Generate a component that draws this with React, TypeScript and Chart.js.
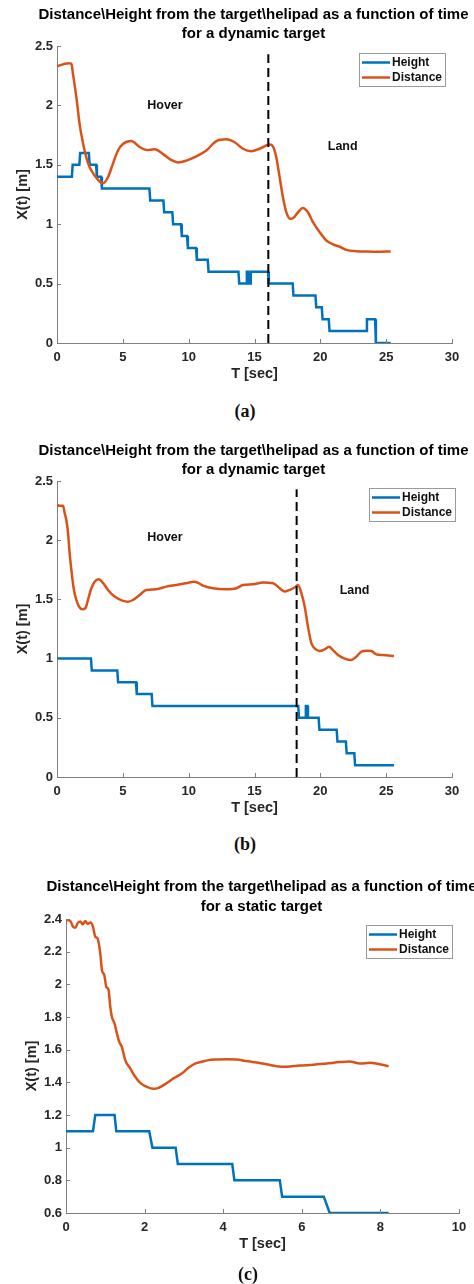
import React, { useEffect, useRef } from "react";
import { Chart, registerables } from "chart.js";
Chart.register(...registerables);

const FONT = '"Liberation Sans", Arial, Helvetica, sans-serif';
const SERIF = '"Liberation Serif", "DejaVu Serif", serif';
const BLUE = "#0072BD";
const ORANGE = "#D95319";
const AXIS = "#808080";
const TEXT = "#262626";

const SERIES_NAMES = ["Height", "Distance"];
const TITLE_DYNAMIC = ["Distance\\Height from the target\\helipad as a function of time", "for a dynamic target"];
const TITLE_STATIC = ["Distance\\Height from the target\\helipad as a function of time", "for a static target"];
const X_TITLE = "T [sec]";
const Y_TITLE = "X(t) [m]";

// ---------- Panel (a) ----------
const A_HEIGHT_T = [0, 1.13, 1.19, 1.7, 1.76, 2.42, 2.48, 2.97, 3.03, 3.35, 3.41, 7.02, 7.08, 8.08, 8.14, 8.76, 8.82, 9.42, 9.48, 9.88, 9.94, 10.56, 10.62, 11.45, 11.51, 13.78, 13.84, 14.36, 14.42, 14.52, 14.58, 14.66, 14.72, 16.03, 16.09, 17.9, 17.96, 19.63, 19.69, 20.11, 20.17, 20.64, 20.7, 23.48, 23.54, 24.16, 24.22, 25.34];
const A_HEIGHT_V = [1.4, 1.4, 1.5, 1.5, 1.6, 1.6, 1.5, 1.5, 1.4, 1.4, 1.3, 1.3, 1.2, 1.2, 1.1, 1.1, 1.0, 1.0, 0.9, 0.9, 0.8, 0.8, 0.7, 0.7, 0.6, 0.6, 0.5, 0.5, 0.6, 0.6, 0.5, 0.5, 0.6, 0.6, 0.5, 0.5, 0.4, 0.4, 0.3, 0.3, 0.2, 0.2, 0.1, 0.1, 0.2, 0.2, 0.0, 0.0];
const A_DIST_T = [0, 0.3, 0.6, 0.9, 1.09, 1.22, 1.47, 1.72, 1.98, 2.23, 2.48, 2.86, 3.24, 3.49, 3.87, 4.25, 4.63, 5.01, 5.65, 6.28, 6.79, 7.42, 8.05, 8.69, 9.19, 9.82, 10.58, 11.34, 12.1, 12.86, 13.49, 14.12, 14.76, 15.39, 16.15, 16.4, 16.66, 16.91, 17.16, 17.42, 17.72, 17.92, 18.3, 18.68, 19.06, 19.44, 19.95, 20.46, 20.96, 21.47, 21.97, 22.73, 23.49, 24.5, 25.34];
const A_DIST_V = [2.33, 2.34, 2.35, 2.355, 2.35, 2.26, 2.07, 1.84, 1.68, 1.56, 1.48, 1.41, 1.36, 1.345, 1.395, 1.51, 1.62, 1.675, 1.7, 1.65, 1.625, 1.63, 1.59, 1.54, 1.52, 1.535, 1.57, 1.62, 1.7, 1.715, 1.69, 1.635, 1.615, 1.635, 1.67, 1.655, 1.56, 1.395, 1.227, 1.1, 1.045, 1.05, 1.1, 1.137, 1.1, 1.017, 0.933, 0.863, 0.83, 0.81, 0.784, 0.773, 0.77, 0.768, 0.77];
const A_LAND_T = 16.05;

// ---------- Panel (b) ----------
const B_HEIGHT_T = [0, 2.58, 2.64, 4.58, 4.64, 6.0, 6.06, 7.19, 7.25, 18.32, 18.38, 18.86, 18.9, 19.02, 19.06, 19.87, 19.93, 21.24, 21.3, 21.94, 22.0, 22.58, 22.64, 25.59];
const B_HEIGHT_V = [1.0, 1.0, 0.9, 0.9, 0.8, 0.8, 0.7, 0.7, 0.6, 0.6, 0.5, 0.5, 0.6, 0.6, 0.5, 0.5, 0.4, 0.4, 0.3, 0.3, 0.2, 0.2, 0.1, 0.1];
const B_DIST_T = [0, 0.2, 0.46, 0.58, 0.71, 0.84, 0.96, 1.09, 1.27, 1.47, 1.67, 1.92, 2.18, 2.35, 2.61, 2.86, 3.16, 3.49, 3.87, 4.38, 5.01, 5.39, 5.77, 6.28, 6.78, 7.54, 8.3, 9.06, 9.82, 10.46, 11.09, 11.85, 12.86, 13.62, 14.13, 14.89, 15.65, 16.41, 16.91, 17.29, 17.67, 18.05, 18.3, 18.56, 18.81, 19.06, 19.32, 19.57, 19.95, 20.33, 20.66, 20.96, 21.34, 21.85, 22.35, 22.73, 23.11, 23.49, 23.87, 24.25, 24.76, 25.59];
const B_DIST_V = [2.3, 2.29, 2.29, 2.23, 2.17, 2.06, 1.89, 1.75, 1.59, 1.495, 1.44, 1.416, 1.43, 1.495, 1.594, 1.65, 1.67, 1.64, 1.58, 1.524, 1.487, 1.481, 1.495, 1.538, 1.58, 1.586, 1.608, 1.622, 1.637, 1.65, 1.617, 1.594, 1.586, 1.594, 1.622, 1.628, 1.642, 1.637, 1.594, 1.566, 1.58, 1.6, 1.622, 1.552, 1.44, 1.27, 1.13, 1.086, 1.064, 1.078, 1.1, 1.072, 1.03, 1.0, 0.988, 1.016, 1.058, 1.067, 1.064, 1.036, 1.03, 1.021];
const B_LAND_T = 18.2;

// ---------- Panel (c) ----------
const C_HEIGHT_T = [0, 0.686, 0.745, 1.236, 1.28, 2.117, 2.2, 2.79, 2.845, 4.23, 4.285, 5.44, 5.5, 6.56, 6.71, 8.21];
const C_HEIGHT_V = [1.1, 1.1, 1.2, 1.2, 1.1, 1.1, 1.0, 1.0, 0.9, 0.9, 0.8, 0.8, 0.7, 0.7, 0.6, 0.6];
const C_DIST_T = [0, 0.11, 0.178, 0.237, 0.296, 0.364, 0.43, 0.49, 0.55, 0.62, 0.686, 0.745, 0.804, 0.872, 0.914, 0.974, 1.025, 1.084, 1.126, 1.168, 1.236, 1.295, 1.355, 1.42, 1.507, 1.634, 1.761, 1.888, 2.058, 2.227, 2.354, 2.523, 2.735, 2.947, 3.116, 3.285, 3.455, 3.624, 3.836, 4.09, 4.344, 4.6, 4.85, 5.1, 5.36, 5.61, 5.95, 6.29, 6.63, 6.97, 7.22, 7.48, 7.73, 7.98, 8.21];
const C_DIST_V = [2.394, 2.388, 2.353, 2.347, 2.374, 2.384, 2.367, 2.388, 2.37, 2.378, 2.353, 2.292, 2.282, 2.19, 2.088, 2.057, 1.985, 1.965, 1.863, 1.8, 1.76, 1.7, 1.648, 1.618, 1.536, 1.485, 1.434, 1.397, 1.372, 1.36, 1.366, 1.389, 1.424, 1.454, 1.489, 1.515, 1.526, 1.536, 1.54, 1.542, 1.54, 1.53, 1.522, 1.511, 1.499, 1.495, 1.503, 1.507, 1.515, 1.524, 1.528, 1.515, 1.52, 1.511, 1.499];

const LAND_LINE_V = [0, 2.43];

type Note = { text: string; x: number; y: number };
type Spec = {
  canvasTop: number; plotLeft: number; plotRight: number; plotTop: number; plotBottom: number;
  xMax: number; xStep: number; yMin: number; yMax: number; yStep: number;
  title: string[]; titleDy: number[];
  legendDx: number; legendDy: number;
  caption: string; captionX: number; captionY: number;
  notes: Note[]; landT: number | null;
  hT: number[]; hV: number[]; dT: number[]; dV: number[];
};

const SPECS: Spec[] = [
  {
    canvasTop: 0, plotLeft: 57, plotRight: 452, plotTop: 46, plotBottom: 343,
    xMax: 30, xStep: 5, yMin: 0, yMax: 2.5, yStep: 0.5,
    title: TITLE_DYNAMIC, titleDy: [-31, -12], legendDx: -7, legendDy: 7,
    caption: "a", captionX: 245, captionY: 411,
    notes: [{ text: "Hover", x: 8.2, y: 2.0 }, { text: "Land", x: 21.7, y: 1.65 }],
    landT: A_LAND_T, hT: A_HEIGHT_T, hV: A_HEIGHT_V, dT: A_DIST_T, dV: A_DIST_V,
  },
  {
    canvasTop: 435, plotLeft: 57, plotRight: 452, plotTop: 481, plotBottom: 777,
    xMax: 30, xStep: 5, yMin: 0, yMax: 2.5, yStep: 0.5,
    title: TITLE_DYNAMIC, titleDy: [-30, -11], legendDx: 3, legendDy: 7,
    caption: "b", captionX: 245, captionY: 844,
    notes: [{ text: "Hover", x: 8.2, y: 2.02 }, { text: "Land", x: 22.6, y: 1.575 }],
    landT: B_LAND_T, hT: B_HEIGHT_T, hV: B_HEIGHT_V, dT: B_DIST_T, dV: B_DIST_V,
  },
  {
    canvasTop: 873, plotLeft: 66, plotRight: 459, plotTop: 919, plotBottom: 1213,
    xMax: 10, xStep: 2, yMin: 0.6, yMax: 2.4, yStep: 0.2,
    title: TITLE_STATIC, titleDy: [-32, -12], legendDx: -7, legendDy: 6,
    caption: "c", captionX: 248, captionY: 1274,
    notes: [], landT: null, hT: C_HEIGHT_T, hV: C_HEIGHT_V, dT: C_DIST_T, dV: C_DIST_V,
  },
];

const W = 474;
const XAXIS_H = 52;

function toPoints(t: number[], v: number[]) {
  return t.map((x, i) => ({ x, y: v[i] }));
}

function Panel({ spec }: { spec: Spec }) {
  const ref = useRef<HTMLCanvasElement | null>(null);
  const height = spec.plotBottom - spec.canvasTop + XAXIS_H;

  useEffect(() => {
    if (!ref.current) return;
    const datasets: any[] = [
      {
        label: SERIES_NAMES[0], data: toPoints(spec.hT, spec.hV), borderColor: BLUE,
        borderWidth: 2.5, pointRadius: 0, tension: 0, order: 2,
      },
      {
        label: SERIES_NAMES[1], data: toPoints(spec.dT, spec.dV), borderColor: ORANGE,
        borderWidth: 2.5, pointRadius: 0, cubicInterpolationMode: "monotone", order: 1,
      },
    ];
    if (spec.landT !== null) {
      datasets.push({
        label: "land", data: LAND_LINE_V.map((v) => ({ x: spec.landT, y: v })), borderColor: "#000",
        borderWidth: 2, borderDash: [9, 5], pointRadius: 0, order: 0,
      });
    }

    const decor = {
      id: "decor",
      afterDraw(chart: any) {
        const ctx = chart.ctx;
        const a = chart.chartArea;
        const xs = chart.scales.x;
        const ys = chart.scales.y;
        ctx.save();
        // inward ticks
        ctx.strokeStyle = AXIS;
        ctx.lineWidth = 1;
        ctx.beginPath();
        xs.ticks.forEach((t: any) => {
          const px = Math.round(xs.getPixelForValue(t.value)) + 0.5;
          ctx.moveTo(px, a.bottom);
          ctx.lineTo(px, a.bottom - 4);
        });
        ys.ticks.forEach((t: any) => {
          const py = Math.round(ys.getPixelForValue(t.value)) + 0.5;
          ctx.moveTo(a.left, py);
          ctx.lineTo(a.left + 4, py);
        });
        ctx.stroke();
        // title
        const cx = (a.left + a.right) / 2 - 1;
        ctx.fillStyle = "#000";
        ctx.font = `bold 15px ${FONT}`;
        ctx.textAlign = "center";
        ctx.textBaseline = "middle";
        spec.title.forEach((line, i) => ctx.fillText(line, cx, a.top + spec.titleDy[i]));
        // notes
        ctx.font = `bold 12.5px ${FONT}`;
        ctx.fillStyle = "#111";
        spec.notes.forEach((n) => ctx.fillText(n.text, xs.getPixelForValue(n.x), ys.getPixelForValue(n.y)));
        // legend
        const bw = 86, bh = 33;
        const bx = a.right + spec.legendDx - bw;
        const by = a.top + spec.legendDy;
        ctx.fillStyle = "#fff";
        ctx.fillRect(bx, by, bw, bh);
        ctx.strokeStyle = "#9a9a9a";
        ctx.lineWidth = 1;
        ctx.strokeRect(Math.round(bx) + 0.5, Math.round(by) + 0.5, bw, bh);
        const colors = [BLUE, ORANGE];
        ctx.font = `bold 12px ${FONT}`;
        ctx.textAlign = "left";
        SERIES_NAMES.forEach((name, i) => {
          const ry = by + 9.5 + i * 15;
          ctx.strokeStyle = colors[i];
          ctx.lineWidth = 2.5;
          ctx.beginPath();
          ctx.moveTo(bx + 3, ry);
          ctx.lineTo(bx + 31, ry);
          ctx.stroke();
          ctx.fillStyle = "#111";
          ctx.fillText(name, bx + 33, ry + 0.5);
        });
        ctx.restore();
      },
    };

    const tickFont = { family: FONT, size: 13, weight: "bold" as const };
    const titleFont = { family: FONT, size: 14.5, weight: "bold" as const };
    const fmt = (v: any) => String(Math.round(Number(v) * 10) / 10);

    const chart = new Chart(ref.current, {
      type: "line",
      data: { datasets },
      plugins: [decor],
      options: {
        animation: false,
        responsive: false,
        devicePixelRatio: 1,
        layout: { padding: { left: 0, right: W - spec.plotRight, top: spec.plotTop - spec.canvasTop, bottom: 0 } },
        plugins: { legend: { display: false }, title: { display: false }, tooltip: { enabled: false } },
        scales: {
          x: {
            type: "linear", min: 0, max: spec.xMax,
            grid: { display: false, drawTicks: false },
            border: { display: true, color: AXIS, width: 1 },
            ticks: { stepSize: spec.xStep, font: tickFont, color: TEXT, padding: 7, callback: fmt, maxRotation: 0 },
            title: { display: true, text: X_TITLE, font: titleFont, color: TEXT, padding: { top: 0, bottom: 12 } },
            afterFit: (s: any) => { s.height = XAXIS_H; },
          },
          y: {
            type: "linear", min: spec.yMin, max: spec.yMax,
            grid: { display: false, drawTicks: false },
            border: { display: true, color: AXIS, width: 1 },
            ticks: { stepSize: spec.yStep, font: tickFont, color: TEXT, padding: 4, callback: fmt },
            title: { display: true, text: Y_TITLE, font: titleFont, color: TEXT, padding: { top: spec.plotLeft - 43, bottom: 0 } },
            afterFit: (s: any) => { s.width = spec.plotLeft; },
          },
        },
      } as any,
    });
    return () => chart.destroy();
  }, [spec]);

  return (
    <>
      <canvas
        ref={ref}
        width={W}
        height={height}
        style={{ position: "absolute", left: 0, top: spec.canvasTop, width: W, height }}
      />
      <div
        style={{
          position: "absolute", left: spec.captionX - 30, top: spec.captionY - 11, width: 60,
          height: 22, lineHeight: "22px", textAlign: "center", fontFamily: SERIF, fontSize: 18,
          fontWeight: "bold", color: "#111",
        }}
      >
        ({spec.caption})
      </div>
    </>
  );
}

export default function App() {
  return (
    <div style={{ position: "absolute", left: 0, top: 0, width: W, height: 1284, background: "#fff", overflow: "hidden" }}>
      {SPECS.map((s, i) => (
        <Panel key={i} spec={s} />
      ))}
    </div>
  );
}
